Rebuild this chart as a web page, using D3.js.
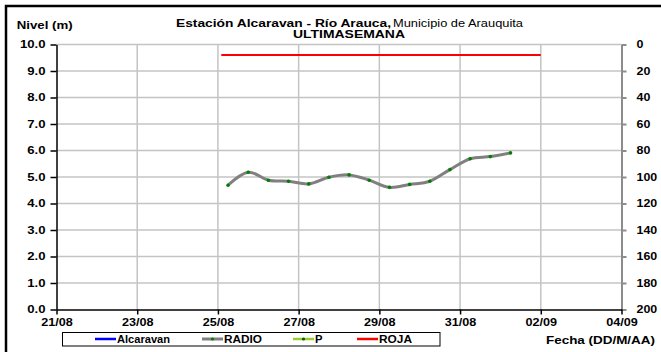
<!DOCTYPE html>
<html><head><meta charset="utf-8">
<script src="https://cdn.jsdelivr.net/npm/d3@7"></script>
<style>
body{margin:0;background:#fff}
svg{display:block}
text{font-family:"Liberation Sans",Arial,sans-serif}
</style>
</head><body>
<svg id="c" width="661" height="352"></svg>
<script>
// ---- data ----
const radioTimes = [
  "2013-08-25T06:00Z","2013-08-25T18:00Z","2013-08-26T06:00Z","2013-08-26T18:00Z",
  "2013-08-27T06:00Z","2013-08-27T18:00Z","2013-08-28T06:00Z","2013-08-28T18:00Z",
  "2013-08-29T06:00Z","2013-08-29T18:00Z","2013-08-30T06:00Z","2013-08-30T18:00Z",
  "2013-08-31T06:00Z","2013-08-31T18:00Z","2013-09-01T06:00Z"
];
const radioLevels = [4.69,5.18,4.88,4.84,4.74,4.99,5.08,4.88,4.61,4.72,4.84,5.28,5.69,5.77,5.91];
const rojaTimes = ["2013-08-25T02:00Z","2013-09-02T00:00Z"];
const rojaLevels = [9.6,9.6];
const xTickDates = ["2013-08-21T00:00Z","2013-08-23T00:00Z","2013-08-25T00:00Z","2013-08-27T00:00Z",
  "2013-08-29T00:00Z","2013-08-31T00:00Z","2013-09-02T00:00Z","2013-09-04T00:00Z"];
const yTicks = [0,1,2,3,4,5,6,7,8,9,10];
const yRightTicks = [0,20,40,60,80,100,120,140,160,180,200];
const legendLabels = ["Alcaravan","RADIO","P","ROJA"];
const legendColors = ["#0000ff","#808080","#99cc33","#ff0000"];
const titleBold = "Estación Alcaravan - Río Arauca,";
const titleNormal = "Municipio de Arauquita";
const subtitle = "ULTIMASEMANA";
const yTitle = "Nivel (m)";
const xTitle = "Fecha (DD/M/AA)";

// ---- layout ----
const L = 56.5, R = 621.5, T = 44.5, B = 309.5;
const svg = d3.select("#c");
const pd = s => new Date(s);

const x = d3.scaleUtc().domain([pd(xTickDates[0]), pd(xTickDates[xTickDates.length-1])]).range([L, R]);
const y = d3.scaleLinear().domain([0, 10]).range([B, T]);
const y2 = d3.scaleLinear().domain([0, 200]).range([T, B]);

// outer frame
svg.append("rect").attr("x",6).attr("y",6).attr("width",720).attr("height",420)
  .attr("fill","none").attr("stroke","#000").attr("stroke-width",2.5);

// gridlines
const grid = svg.append("g").attr("stroke","#c4c4c4").attr("stroke-width",1.5);
grid.selectAll(".h").data(yTicks.filter(d=>d>0)).join("line")
  .attr("x1",L).attr("x2",R).attr("y1",d=>y(d)).attr("y2",d=>y(d));
grid.selectAll(".v").data(xTickDates.slice(1,-1)).join("line")
  .attr("y1",T).attr("y2",B).attr("x1",d=>x(pd(d))).attr("x2",d=>x(pd(d)));

// ROJA
const rojaData = rojaTimes.map((t,i)=>({t:pd(t), v:rojaLevels[i]}));
svg.append("path").datum(rojaData)
  .attr("d", d3.line().x(d=>x(d.t)).y(d=>y(d.v)))
  .attr("fill","none").attr("stroke","#ff0000").attr("stroke-width",2);

// RADIO
const radioData = radioTimes.map((t,i)=>({t:pd(t), v:radioLevels[i]}));
svg.append("path").datum(radioData)
  .attr("d", d3.line().curve(d3.curveCardinal.tension(0)).x(d=>x(d.t)).y(d=>y(d.v)))
  .attr("fill","none").attr("stroke","#808080").attr("stroke-width",3);
svg.append("g").selectAll("circle").data(radioData).join("circle")
  .attr("cx",d=>x(d.t)).attr("cy",d=>y(d.v)).attr("r",1.8).attr("fill","#008000");

function styleTicks(g, factor){
  g.selectAll("text").attr("font-size","10.5px").attr("font-weight","bold").attr("fill","#000")
    .each(function(){ const w=this.getComputedTextLength(); d3.select(this).attr("textLength",w*factor).attr("lengthAdjust","spacingAndGlyphs"); });
}

// axes
const gl = svg.append("g").attr("transform",`translate(${L},0)`)
  .call(d3.axisLeft(y).tickValues(yTicks).tickFormat(d3.format(".1f")).tickSize(6).tickPadding(5).tickSizeOuter(0));
gl.selectAll("line,path").attr("stroke","#000").attr("stroke-width",1.5);
styleTicks(gl,1.25);

const gr = svg.append("g").attr("transform",`translate(${R},0)`)
  .call(d3.axisRight(y2).tickValues(yRightTicks).tickSize(5).tickPadding(10).tickSizeOuter(0));
gr.selectAll("line,path").attr("stroke","#8c8c8c").attr("stroke-width",2);
styleTicks(gr,1.18);

const gb = svg.append("g").attr("transform",`translate(0,${B})`)
  .call(d3.axisBottom(x).tickValues(xTickDates.map(pd)).tickFormat(d3.utcFormat("%d/%m")).tickSize(5).tickPadding(4).tickSizeOuter(0));
gb.selectAll("line,path").attr("stroke","#000").attr("stroke-width",1.5);
styleTicks(gb,1.2);

// texts
function txt(x0, y0, s, size, weight, len, anchor){
  return svg.append("text").attr("x",x0).attr("y",y0).text(s)
    .attr("font-size",size+"px").attr("font-weight",weight).attr("fill","#000")
    .attr("text-anchor",anchor||"start")
    .attr("textLength",len).attr("lengthAdjust","spacingAndGlyphs");
}
txt(16.7, 28.5, yTitle, 11, "bold", 56);
txt(176, 26.8, titleBold, 11, "bold", 215);
txt(393, 26.8, titleNormal, 11, "normal", 130);
txt(293, 37.5, subtitle, 10, "bold", 112);
txt(546, 344, xTitle, 11, "bold", 109);

// legend
const lg = svg.append("g");
lg.append("rect").attr("x",62.5).attr("y",332.5).attr("width",377.5).attr("height",13.5)
  .attr("fill","#fff").attr("stroke","#000").attr("stroke-width",1);
const legX = [95, 202, 293, 357];
const legLen = [53, 38, 7.5, 33];
legendLabels.forEach((lab,i)=>{
  const ly = 339;
  lg.append("line").attr("x1",legX[i]).attr("x2",legX[i]+21).attr("y1",ly).attr("y2",ly)
    .attr("stroke",legendColors[i]).attr("stroke-width", i===1?3:2.5);
  if(i===1||i===2){
    lg.append("circle").attr("cx",legX[i]+10.5).attr("cy",ly).attr("r",1.6).attr("fill", i===1?"#008000":"#006400");
  }
  lg.append("text").attr("x",legX[i]+22).attr("y",ly+3.8).text(lab)
    .attr("font-size","10.5px").attr("font-weight","bold").attr("fill","#000")
    .attr("textLength",legLen[i]).attr("lengthAdjust","spacingAndGlyphs");
});
</script>
</body></html>
